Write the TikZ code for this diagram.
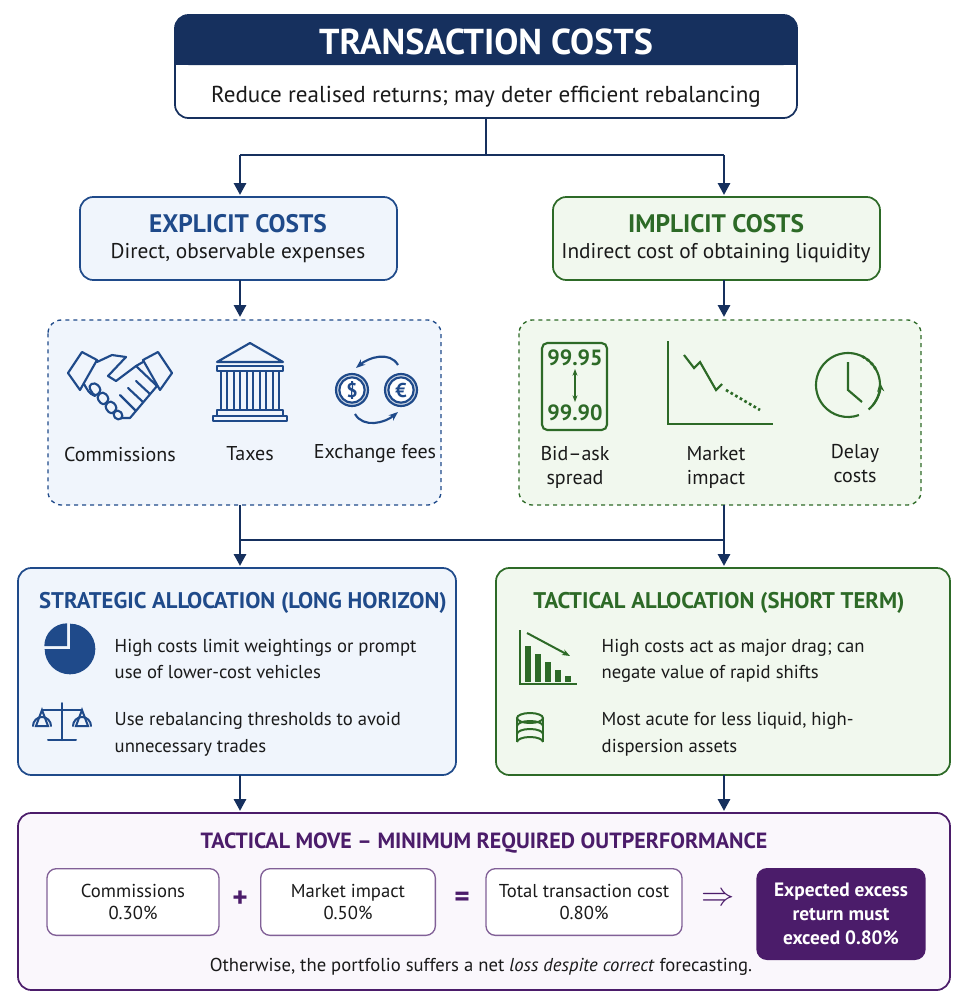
\documentclass[tikz,border=0pt]{standalone}
\usepackage{fontspec}
\usepackage{amsmath}
\setmainfont{PT Sans}
\usetikzlibrary{arrows.meta, positioning, calc}
\definecolor{navy}{HTML}{16305E}
\definecolor{blu}{HTML}{1F4A8A}
\definecolor{blufill}{HTML}{F0F5FC}
\definecolor{grn}{HTML}{2D6A27}
\definecolor{grnfill}{HTML}{F1F8EE}
\definecolor{pur}{HTML}{4B1C6A}
\definecolor{purfill}{HTML}{FAF7FC}
\definecolor{txt}{HTML}{1A1A1A}
\tikzset{
  conn/.style={navy, line width=2.2pt},
  arr/.style={conn, -{Triangle[length=9pt,width=9pt]}},
  panel/.style={rounded corners=10pt, line width=1.3pt},
  lbl/.style={text=txt, font=\fontsize{14}{17}\selectfont, align=center},
  icolbl/.style={lbl, font=\fontsize{15}{18}\selectfont},
  body/.style={text=txt, font=\fontsize{14}{20}\selectfont, align=left, anchor=west},
  small/.style={rounded corners=7pt, draw=pur!70, line width=1pt, fill=white},
}
\begin{document}
\begin{tikzpicture}[x=0.75pt,y=-0.75pt]
\useasboundingbox (0,0) rectangle (970,1007);

% top box
\draw[panel, draw=navy, fill=white] (175,15) rectangle (797,118);
\fill[navy, rounded corners=10pt] (175,15) -- (797,15) -- (797,65) -- (175,65) -- cycle;
\fill[navy] (176,45) rectangle (796,65);
\node[text=white, font=\fontsize{27}{30}\selectfont\bfseries] (title) at (486,42) {TRANSACTION COSTS};
\node[lbl, font=\fontsize{17.3}{20}\selectfont] (sub) at (486,97) {Reduce realised returns; may deter efficient rebalancing};
\coordinate (top) at (486,118);

% cost type boxes
\draw[panel, draw=blu, fill=blufill] (80,197) rectangle (397,280);
\node[text=blu, font=\fontsize{19}{22}\selectfont\bfseries] (expl) at (238,224) {EXPLICIT COSTS};
\node[lbl, font=\fontsize{16}{19}\selectfont] at (238,253) {Direct, observable expenses};
\draw[panel, draw=grn, fill=grnfill] (553,197) rectangle (880,280);
\node[text=grn, font=\fontsize{19}{22}\selectfont\bfseries] (impl) at (716,224) {IMPLICIT COSTS};
\node[lbl, font=\fontsize{16}{19}\selectfont] at (716,253) {Indirect cost of obtaining liquidity};

\coordinate (jl) at (240,155);
\coordinate (jr) at (724,155);
\draw[conn] (top) -- (486,155);
\draw[conn] (jl) -- (jr);
\draw[arr] (jl) -- (240,195);
\draw[arr] (jr) -- (724,195);
\draw[arr] (240,280) -- (240,317);
\draw[arr] (724,280) -- (724,317);

% dashed groups
\draw[panel, draw=blu, dashed, line width=1pt, fill=blufill] (48,320) rectangle (441,505);
\draw[panel, draw=grn, dashed, line width=1pt, fill=grnfill] (519,320) rectangle (921,505);

% handshake
\begin{scope}[blu, line width=1.6pt, line join=round, line cap=round]
  \draw (68,373) -- (82,352) -- (97,360) -- (80,390) -- cycle;
  \draw (172,373) -- (158,352) -- (143,360) -- (160,390) -- cycle;
  \draw (97,362) -- (112,355) -- (126,357) -- (108,376) -- (116,381) -- (136,366) -- (143,362);
  \draw (136,366) -- (157,386) -- (130,418) -- (122,418);
  \draw (84,384) to[out=-60,in=160] (95,396);
  \draw[rounded corners=3pt] (88,386) -- (95,382) -- (102,390) -- (95,397) -- cycle;
  \draw[rounded corners=3pt] (96,397) -- (103,391) -- (110,399) -- (103,406) -- cycle;
  \draw[rounded corners=3pt] (104,406) -- (111,400) -- (118,408) -- (111,415) -- cycle;
  \draw[rounded corners=3pt] (112,414) -- (118,409) -- (124,416) -- (118,421) -- cycle;
  \draw (120,395) -- (135,410) (128,388) -- (143,402) (136,381) -- (150,394);
\end{scope}
% bank
\begin{scope}[blu, line width=1.6pt, line join=round]
  \draw (217,362) -- (250,343) -- (283,362) -- cycle;
  \draw (217,366) rectangle (283,371);
  \foreach \cx in {224,237,250,263,276} \draw (\cx-3,371) rectangle (\cx+3,410);
  \draw (217,410) rectangle (283,416);
  \draw (213,416) rectangle (287,421);
\end{scope}
% exchange
\begin{scope}[blu, line width=1.6pt]
  \draw[fill=blu!25] (352,390) circle (12pt);
  \draw[fill=white] (352,390) circle (9.5pt);
  \draw[fill=blu!25] (401,390) circle (12pt);
  \draw[fill=white] (401,390) circle (9.5pt);
  \node[text=blu, font=\fontsize{15}{15}\selectfont\bfseries] at (352,390) {\$};
  \node[text=blu, font=\fontsize{15}{15}\selectfont\bfseries] at (401,390) {€};
  \draw[-{Stealth[length=7pt]}] (398,365) to[out=120,in=40] (356,368);
  \draw[-{Stealth[length=7pt]}] (355,414) to[out=-60,in=-140] (398,412);
\end{scope}
\node[icolbl] (comm) at (120,454) {Commissions};
\node[icolbl] (tax) at (250,454) {Taxes};
\node[icolbl] (exch) at (375,454) {Exchange fees};

% bid-ask
\begin{scope}[grn, line width=1.6pt]
  \draw[rounded corners=4pt] (542,343) rectangle (607,430);
  \node[text=grn, font=\fontsize{16.5}{17}\selectfont\bfseries] at (575,358) {99.95};
  \node[text=grn, font=\fontsize{16.5}{17}\selectfont\bfseries] at (575,413) {99.90};
  \draw[{Stealth[length=5pt]}-{Stealth[length=5pt]}] (575,369) -- (575,402);
  \draw (668,341) -- (668,424) -- (773,424);
  \draw (684,355) -- (694,368) -- (700,362) -- (716,390) -- (722,384);
  \draw[dotted, line width=2pt] (726,390) -- (760,410);
  % clock
  \draw (848,385) ++(50:32) arc (50:-290:32);
  \draw[dotted, line width=2pt] (848,385) ++(-30:32) arc (-30:-65:32);
  \draw[-{Stealth[length=7pt]}] (848,385) ++(40:32) arc (40:-5:32);
  \draw (848,362) -- (848,390) -- (862,402);
\end{scope}
\node[icolbl] (bid) at (575,467) {Bid–ask\\spread};
\node[icolbl] (mkt) at (716,467) {Market\\impact};
\node[icolbl, text depth=2pt] (del) at (855,465) {Delay\\costs};

% join to allocations
\draw[conn] (240,505) -- (240,540);
\draw[conn] (724,505) -- (724,540);
\draw[conn] (240,540) -- (724,540);
\draw[arr] (240,540) -- (240,566);
\draw[arr] (724,540) -- (724,566);

% allocation boxes
\draw[panel, draw=blu, fill=blufill] (18,568) rectangle (456,775);
\node[text=blu, font=\fontsize{17}{20}\selectfont\bfseries] (strat) at (243,603) {STRATEGIC ALLOCATION (LONG HORIZON)};
\fill[blu] (70,649) -- ++(90:19pt) arc (90:-180:19pt) -- cycle;
\fill[blu] (67,646) -- ++(-180:17pt) arc (-180:-270:17pt) -- cycle;
\begin{scope}[blu, line width=1.5pt, line cap=round]
  \draw (62,703) -- (62,740) (48,740) -- (76,740) (42,710) -- (82,710);
  \draw (42,710) -- (36,726) -- (48,726) -- cycle (82,710) -- (76,726) -- (88,726) -- cycle;
  \draw (33,726) arc (180:360:9) (73,726) arc (180:360:9);
\end{scope}
\node[body] at (110,659) {High costs limit weightings or prompt\\use of lower-cost vehicles};
\node[body] at (110,734) {Use rebalancing thresholds to avoid\\unnecessary trades};

\draw[panel, draw=grn, fill=grnfill] (496,568) rectangle (950,775);
\node[text=grn, font=\fontsize{17}{20}\selectfont\bfseries] (tact) at (719,603) {TACTICAL ALLOCATION (SHORT TERM)};
\begin{scope}[grn, line width=1.5pt]
  \draw (520,630) -- (520,684) -- (577,684);
  \foreach \bx/\bh in {528/38,538/30,548/22,558/14,568/8} \fill (\bx-3,684-\bh) rectangle (\bx+3,682);
  \draw[-{Stealth[length=6pt]}] (527,633) -- (570,656);
  \draw (530,718) ellipse (13 and 5);
  \draw (517,718) -- (517,742) (543,718) -- (543,742);
  \draw (517,726) arc (180:360:13 and 5) (517,734) arc (180:360:13 and 5) (517,742) arc (180:360:13 and 5);
\end{scope}
\node[body] at (597,661) {High costs act as major drag; can\\negate value of rapid shifts};
\node[body] at (597,734) {Most acute for less liquid, high-\\dispersion assets};

\draw[arr] (240,775) -- (240,811);
\draw[arr] (724,775) -- (724,811);

% bottom box
\draw[panel, draw=pur, fill=purfill] (18,813) rectangle (950,990);
\node[text=pur, font=\fontsize{16.5}{19}\selectfont\bfseries] (move) at (484,843) {TACTICAL MOVE – MINIMUM REQUIRED OUTPERFORMANCE};
\node[small, minimum width=129pt, minimum height=50pt, lbl] (c1) at (133,902) {Commissions\\0.30\%};
\node[small, minimum width=131pt, minimum height=50pt, lbl] (c2) at (348,902) {Market impact\\0.50\%};
\node[small, minimum width=147pt, minimum height=50pt, lbl] (c3) at (584,902) {Total transaction cost\\0.80\%};
\node[text=pur, font=\fontsize{22}{22}\selectfont\bfseries] (plus) at (240,899) {+};
\node[text=pur, font=\fontsize{22}{22}\selectfont\bfseries] (eq) at (462,899) {=};
\node[text=pur, font=\fontsize{24}{24}\selectfont] (imp) at (718,899) {$\Rightarrow$};
\node[fill=pur, rounded corners=8pt, minimum width=127pt, minimum height=69pt, text=white,
  font=\fontsize{14.5}{18}\selectfont\bfseries, align=center] (res) at (841,914) {Expected excess\\return must\\exceed 0.80\%};
\node[lbl] (note) at (481,967) {Otherwise, the portfolio suffers a net \textit{loss despite correct} forecasting.};
\end{tikzpicture}
\end{document}
